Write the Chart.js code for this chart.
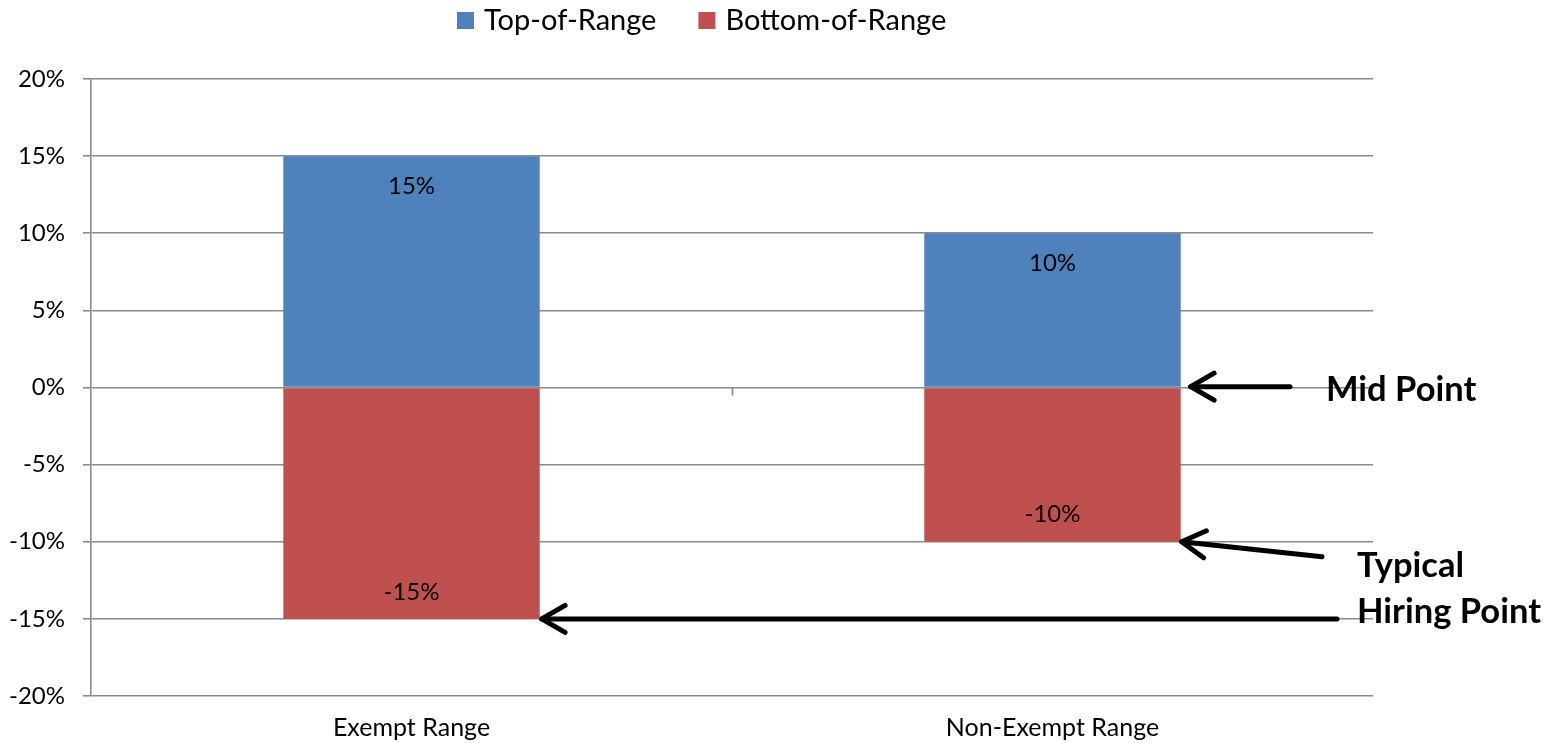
<!DOCTYPE html>
<html>
<head>
<meta charset="utf-8">
<script src="https://cdn.jsdelivr.net/npm/chart.js@4/dist/chart.umd.min.js"></script>
<style>
  html, body { margin: 0; padding: 0; background: #ffffff; }
  canvas { display: block; }
</style>
</head>
<body>
<canvas id="rangeChart" width="1556" height="743"></canvas>
<script>
// Salary range spread around the mid point, in percent
const categories = ['Exempt Range', 'Non-Exempt Range'];
const topOfRange = [15, 10];
const bottomOfRange = [-15, -10];
const yTickValues = [-20, -15, -10, -5, 0, 5, 10, 15, 20];
const seriesNames = ['Top-of-Range', 'Bottom-of-Range'];
const seriesColors = ['#4F81BD', '#C0504D'];
const midPointNote = ['Mid Point'];
const hiringPointNote = ['Typical', 'Hiring Point'];

const FONT = 'Lato, "Open Sans", sans-serif';
const GRID = '#8a8a8a';
const pct = v => v + '%';

// Legend drawn as a single row of swatches above the plot
const rowLegend = {
  id: 'rowLegend',
  afterDraw(chart) {
    const ctx = chart.ctx;
    ctx.save();
    ctx.font = '29px ' + FONT;
    ctx.textBaseline = 'middle';
    ctx.textAlign = 'left';
    let x = 457;
    chart.data.datasets.forEach(ds => {
      ctx.fillStyle = ds.backgroundColor;
      ctx.fillRect(x, 12, 17, 17);
      x += 17 + 10;
      ctx.fillStyle = '#000';
      ctx.fillText(ds.label, x, 21);
      x += ctx.measureText(ds.label).width + 42;
    });
    ctx.restore();
  }
};

// Value labels placed just inside the outer end of each bar
const barValueLabels = {
  id: 'barValueLabels',
  afterDatasetsDraw(chart) {
    const ctx = chart.ctx;
    ctx.save();
    ctx.font = '24px ' + FONT;
    ctx.fillStyle = '#000';
    ctx.textAlign = 'center';
    ctx.textBaseline = 'middle';
    chart.data.datasets.forEach((ds, di) => {
      chart.getDatasetMeta(di).data.forEach((bar, i) => {
        const v = ds.data[i];
        const y = v >= 0 ? bar.y + 30 : bar.y - 27;
        ctx.fillText(pct(v), bar.x, y);
      });
    });
    ctx.restore();
  }
};

// Short tick on the zero line between the two categories
const zeroLineTick = {
  id: 'zeroLineTick',
  afterDatasetsDraw(chart) {
    const xs = chart.scales.x, ys = chart.scales.y;
    const ctx = chart.ctx;
    const y0 = ys.getPixelForValue(0);
    ctx.save();
    ctx.strokeStyle = GRID;
    ctx.lineWidth = 1.6;
    for (let i = 0; i < categories.length - 1; i++) {
      const xb = Math.round((xs.getPixelForValue(i) + xs.getPixelForValue(i + 1)) / 2) + 0.5;
      ctx.beginPath();
      ctx.moveTo(xb, y0);
      ctx.lineTo(xb, y0 + 8);
      ctx.stroke();
    }
    ctx.restore();
  }
};

function arrow(ctx, x1, y1, x2, y2) {
  // shaft from (x1,y1) to the tip at (x2,y2), open chevron head
  const ang = Math.atan2(y2 - y1, x2 - x1);
  const head = 27, spread = Math.PI / 6;
  ctx.beginPath();
  ctx.moveTo(x1, y1);
  ctx.lineTo(x2, y2);
  ctx.stroke();
  ctx.beginPath();
  ctx.moveTo(x2 - head * Math.cos(ang - spread), y2 - head * Math.sin(ang - spread));
  ctx.lineTo(x2, y2);
  ctx.lineTo(x2 - head * Math.cos(ang + spread), y2 - head * Math.sin(ang + spread));
  ctx.stroke();
}

// Callouts in the right margin pointing at bar ends
const callouts = {
  id: 'callouts',
  afterDraw(chart) {
    const ctx = chart.ctx;
    const right = chart.chartArea.right;
    const topMeta = chart.getDatasetMeta(0).data;
    const botMeta = chart.getDatasetMeta(1).data;
    ctx.save();
    ctx.strokeStyle = '#000';
    ctx.lineWidth = 5;
    ctx.lineCap = 'round';
    ctx.lineJoin = 'round';

    // mid point: base of the stacked bars
    const mid = topMeta[1];
    const midEdge = mid.x + mid.width / 2;
    arrow(ctx, right - 83, mid.base, midEdge + 10, mid.base);

    // typical hiring point: bottom ends of both ranges
    const nb = botMeta[1];
    arrow(ctx, right - 51, nb.y + 15, nb.x + nb.width / 2 + 1, nb.y);
    const eb = botMeta[0];
    arrow(ctx, right - 36, eb.y, eb.x + eb.width / 2 + 2, eb.y);

    ctx.fillStyle = '#000';
    ctx.font = 'bold 34.5px ' + FONT;
    ctx.textAlign = 'left';
    ctx.textBaseline = 'alphabetic';
    ctx.fillText(midPointNote[0], right - 47, mid.base + 14);
    ctx.fillText(hiringPointNote[0], right - 16, eb.y - 42);
    ctx.fillText(hiringPointNote[1], right - 16, eb.y + 4);
    ctx.restore();
  }
};

Chart.defaults.font.family = FONT;
Chart.defaults.color = '#000';

new Chart(document.getElementById('rangeChart'), {
  type: 'bar',
  data: {
    labels: categories,
    datasets: [
      { label: seriesNames[0], data: topOfRange, backgroundColor: seriesColors[0] },
      { label: seriesNames[1], data: bottomOfRange, backgroundColor: seriesColors[1] }
    ]
  },
  options: {
    responsive: false,
    animation: false,
    events: [],
    barPercentage: 0.4,
    categoryPercentage: 1.0,
    layout: { padding: { top: 79, right: 183, left: 0, bottom: 0 } },
    plugins: {
      legend: { display: false },
      tooltip: { enabled: false }
    },
    scales: {
      x: {
        stacked: true,
        grid: { display: false, drawTicks: false, tickLength: 0 },
        border: { display: false },
        ticks: { font: { size: 25 }, padding: 17, color: '#000' },
        afterFit(s) { s.height = 47; }
      },
      y: {
        stacked: true,
        min: -20,
        max: 20,
        afterBuildTicks(s) { s.ticks = yTickValues.map(v => ({ value: v })); },
        grid: { color: GRID, lineWidth: 1.6, tickLength: 8 },
        border: { color: GRID, width: 1.6 },
        ticks: { font: { size: 24 }, padding: 18, color: '#000', callback: v => pct(v) },
        afterFit(s) { s.width = 91; }
      }
    }
  },
  plugins: [rowLegend, barValueLabels, zeroLineTick, callouts]
});
</script>
</body>
</html>
